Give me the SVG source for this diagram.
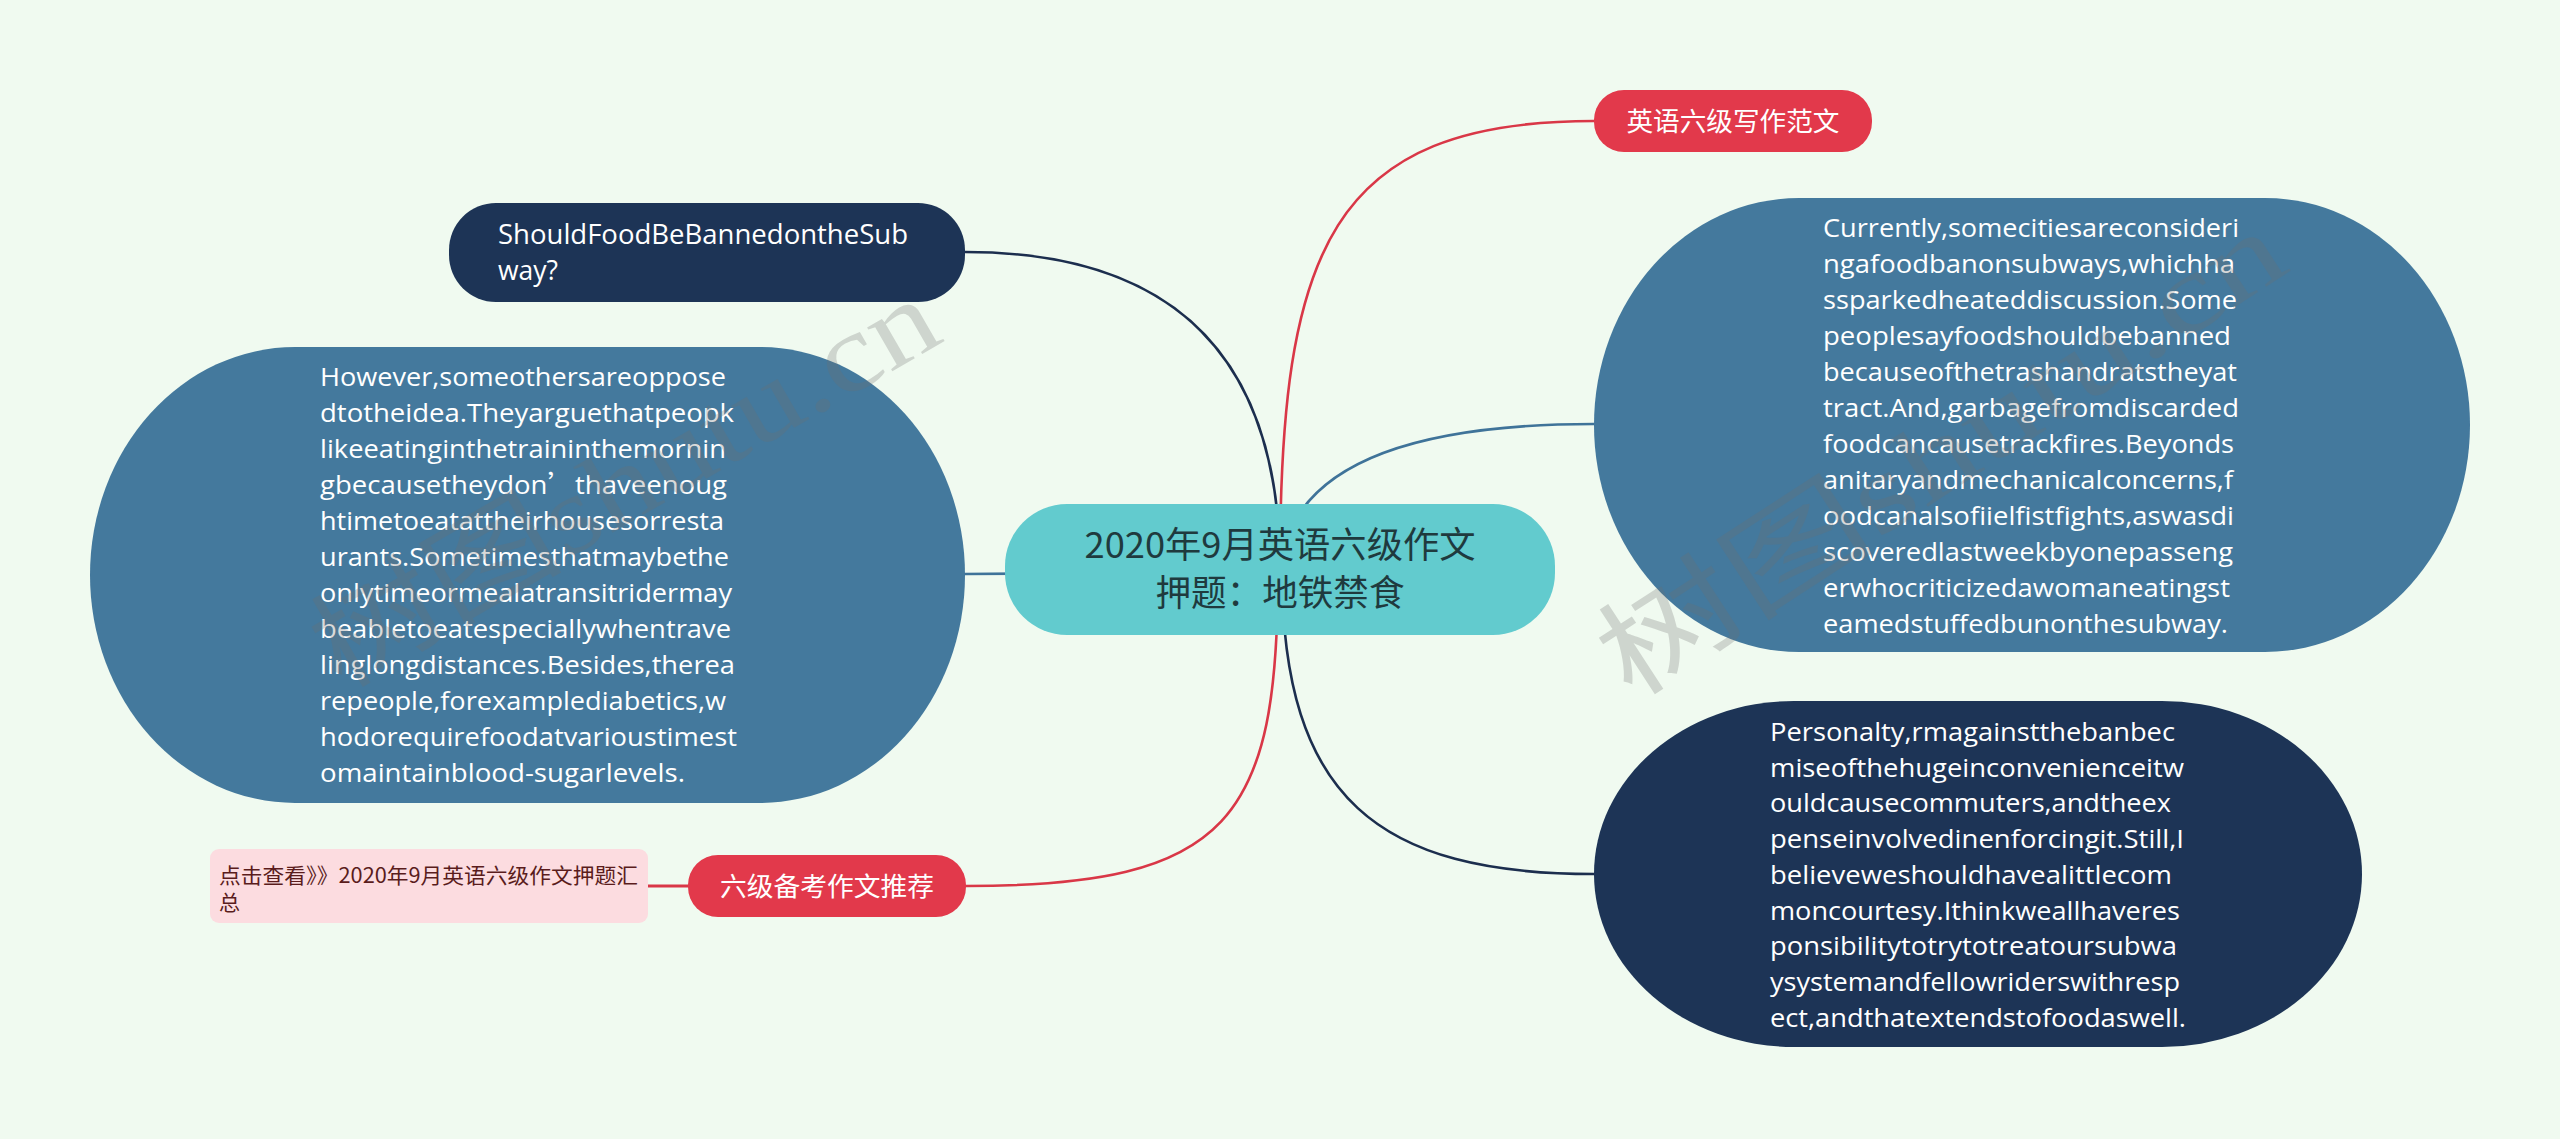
<svg xmlns="http://www.w3.org/2000/svg" width="2560" height="1139" viewBox="0 0 2560 1139">
<style>
.lnk{fill:none;stroke-width:2.6;stroke-linecap:round}
.red{stroke:#D93747}
.navy{stroke:#1C2E4E}
.blue{stroke:#3F7399}
.root{fill:#62CBCE}
.rootT{font-family:"Noto Sans CJK SC","Noto Sans",sans-serif;font-size:36px;fill:#1F3A3E;text-anchor:middle}
.redN{fill:#E2394B}
.redT{font-family:"Noto Sans CJK SC",sans-serif;font-size:26px;fill:#FFFFFF;text-anchor:middle}
.navyN{fill:#1D3456}
.steelN{fill:#44799D}
.body{font-family:"Open Sans","Noto Sans","Noto Sans CJK SC",sans-serif;font-size:26px;fill:#FFFFFF}
.head{font-family:"Open Sans","Noto Sans",sans-serif;font-size:27px;fill:#FFFFFF}
.pinkN{fill:#FCDCE0}
.pinkT{font-family:"Noto Sans CJK SC",sans-serif;font-size:21px;fill:#5A1C1C}
.cjk{font-family:"Noto Sans CJK SC",sans-serif}
.wm{font-family:"Liberation Serif","Noto Sans CJK SC",serif;font-size:110px;fill:#6f6f6f;opacity:0.26}
</style>
<rect x="0" y="0" width="2560" height="1139" fill="#F0FAF0"/>

<g id="connectors">
  <path class="lnk red" d="M1280 569 C1280 250 1330 121 1594 121"/>
  <path class="lnk navy" d="M1280 569 Q1280 252 965 252"/>
  <path class="lnk blue" d="M1280 569 C1290 470 1400 424 1594 424"/>
  <path class="lnk blue" d="M1280 572 L965 574"/>
  <path class="lnk red" d="M1278 569 C1278 820 1230 886 966 886"/>
  <path class="lnk navy" d="M1282 569 C1282 800 1380 874 1594 874"/>
  <path class="lnk red" d="M688 886 L648 886" style="stroke-width:3"/>
</g>

<g id="node-top-red">
  <rect class="redN" x="1594" y="90" width="278" height="62" rx="30"/>
  <text class="redT" x="1733" y="131" textLength="213" lengthAdjust="spacingAndGlyphs">英语六级写作范文</text>
</g>

<g id="node-should">
  <rect class="navyN" x="449" y="203" width="516" height="99" rx="47"/>
  <text class="head" x="498" y="244" textLength="410" lengthAdjust="spacingAndGlyphs">ShouldFoodBeBannedontheSub</text>
  <text class="head" x="498" y="280" textLength="60" lengthAdjust="spacingAndGlyphs">way?</text>
</g>

<g id="node-left-big">
  <rect class="steelN" x="90" y="347" width="875" height="456" rx="205" ry="228"/>
  <text class="body" x="320" y="386" textLength="406" lengthAdjust="spacingAndGlyphs">However,someothersareoppose</text>
  <text class="body" x="320" y="422" textLength="414" lengthAdjust="spacingAndGlyphs">dtotheidea.Theyarguethatpeopk</text>
  <text class="body" x="320" y="458" textLength="406" lengthAdjust="spacingAndGlyphs">likeeatinginthetraininthemornin</text>
  <text class="body" x="320" y="494" textLength="407" lengthAdjust="spacingAndGlyphs">gbecausetheydon<tspan class="cjk">’</tspan>thaveenoug</text>
  <text class="body" x="320" y="530" textLength="404" lengthAdjust="spacingAndGlyphs">htimetoeatattheirhousesorresta</text>
  <text class="body" x="320" y="566" textLength="409" lengthAdjust="spacingAndGlyphs">urants.Sometimesthatmaybethe</text>
  <text class="body" x="320" y="602" textLength="412" lengthAdjust="spacingAndGlyphs">onlytimeormealatransitridermay</text>
  <text class="body" x="320" y="638" textLength="411" lengthAdjust="spacingAndGlyphs">beabletoeatespeciallywhentrave</text>
  <text class="body" x="320" y="674" textLength="415" lengthAdjust="spacingAndGlyphs">linglongdistances.Besides,therea</text>
  <text class="body" x="320" y="710" textLength="406" lengthAdjust="spacingAndGlyphs">repeople,forexamplediabetics,w</text>
  <text class="body" x="320" y="746" textLength="417" lengthAdjust="spacingAndGlyphs">hodorequirefoodatvarioustimest</text>
  <text class="body" x="320" y="782" textLength="365" lengthAdjust="spacingAndGlyphs">omaintainblood-sugarlevels.</text>
</g>

<g id="node-right-big">
  <rect class="steelN" x="1594" y="198" width="876" height="454" rx="205" ry="227"/>
  <text class="body" x="1823" y="237" textLength="416" lengthAdjust="spacingAndGlyphs">Currently,somecitiesareconsideri</text>
  <text class="body" x="1823" y="273" textLength="412" lengthAdjust="spacingAndGlyphs">ngafoodbanonsubways,whichha</text>
  <text class="body" x="1823" y="309" textLength="414" lengthAdjust="spacingAndGlyphs">ssparkedheateddiscussion.Some</text>
  <text class="body" x="1823" y="345" textLength="408" lengthAdjust="spacingAndGlyphs">peoplesayfoodshouldbebanned</text>
  <text class="body" x="1823" y="381" textLength="414" lengthAdjust="spacingAndGlyphs">becauseofthetrashandratstheyat</text>
  <text class="body" x="1823" y="417" textLength="416" lengthAdjust="spacingAndGlyphs">tract.And,garbagefromdiscarded</text>
  <text class="body" x="1823" y="453" textLength="411" lengthAdjust="spacingAndGlyphs">foodcancausetrackfires.Beyonds</text>
  <text class="body" x="1823" y="489" textLength="410" lengthAdjust="spacingAndGlyphs">anitaryandmechanicalconcerns,f</text>
  <text class="body" x="1823" y="525" textLength="411" lengthAdjust="spacingAndGlyphs">oodcanalsofiielfistfights,aswasdi</text>
  <text class="body" x="1823" y="561" textLength="410" lengthAdjust="spacingAndGlyphs">scoveredlastweekbyonepasseng</text>
  <text class="body" x="1823" y="597" textLength="407" lengthAdjust="spacingAndGlyphs">erwhocriticizedawomaneatingst</text>
  <text class="body" x="1823" y="633" textLength="405" lengthAdjust="spacingAndGlyphs">eamedstuffedbunonthesubway.</text>
</g>

<g id="node-bottom-right">
  <rect class="navyN" x="1594" y="701" width="768" height="346" rx="200" ry="173"/>
  <text class="body" x="1770" y="741" textLength="405" lengthAdjust="spacingAndGlyphs">Personalty,rmagainstthebanbec</text>
  <text class="body" x="1770" y="777" textLength="414" lengthAdjust="spacingAndGlyphs">miseofthehugeinconvenienceitw</text>
  <text class="body" x="1770" y="812" textLength="401" lengthAdjust="spacingAndGlyphs">ouldcausecommuters,andtheex</text>
  <text class="body" x="1770" y="848" textLength="414" lengthAdjust="spacingAndGlyphs">penseinvolvedinenforcingit.Still,I</text>
  <text class="body" x="1770" y="884" textLength="402" lengthAdjust="spacingAndGlyphs">believeweshouldhavealittlecom</text>
  <text class="body" x="1770" y="920" textLength="410" lengthAdjust="spacingAndGlyphs">moncourtesy.Ithinkweallhaveres</text>
  <text class="body" x="1770" y="955" textLength="407" lengthAdjust="spacingAndGlyphs">ponsibilitytotrytotreatoursubwa</text>
  <text class="body" x="1770" y="991" textLength="410" lengthAdjust="spacingAndGlyphs">ysystemandfellowriderswithresp</text>
  <text class="body" x="1770" y="1027" textLength="416" lengthAdjust="spacingAndGlyphs">ect,andthatextendstofoodaswell.</text>
</g>

<g id="node-bottom-red">
  <rect class="redN" x="688" y="855" width="278" height="62" rx="30"/>
  <text class="redT" x="827" y="896" textLength="214" lengthAdjust="spacingAndGlyphs">六级备考作文推荐</text>
</g>

<g id="node-pink">
  <rect class="pinkN" x="210" y="849" width="438" height="74" rx="9"/>
  <text class="pinkT" x="219" y="883" textLength="419" lengthAdjust="spacingAndGlyphs">点击查看》》2020年9月英语六级作文押题汇</text>
  <text class="pinkT" x="219" y="910">总</text>
</g>

<g id="node-root">
  <rect class="root" x="1005" y="504" width="550" height="131" rx="62"/>
  <text class="rootT" x="1280" y="558" textLength="391" lengthAdjust="spacingAndGlyphs">2020年9月英语六级作文</text>
  <text class="rootT" x="1280" y="606" textLength="249" lengthAdjust="spacingAndGlyphs">押题：地铁禁食</text>
</g>

<g id="watermarks">
  <text class="wm" x="340" y="690" transform="rotate(-30 340 690)" textLength="700" lengthAdjust="spacingAndGlyphs">树图shutu.cn</text>
  <text class="wm" x="1630" y="700" transform="rotate(-33 1630 700)" textLength="790" lengthAdjust="spacingAndGlyphs">树图shutu.cn</text>
</g>
</svg>
